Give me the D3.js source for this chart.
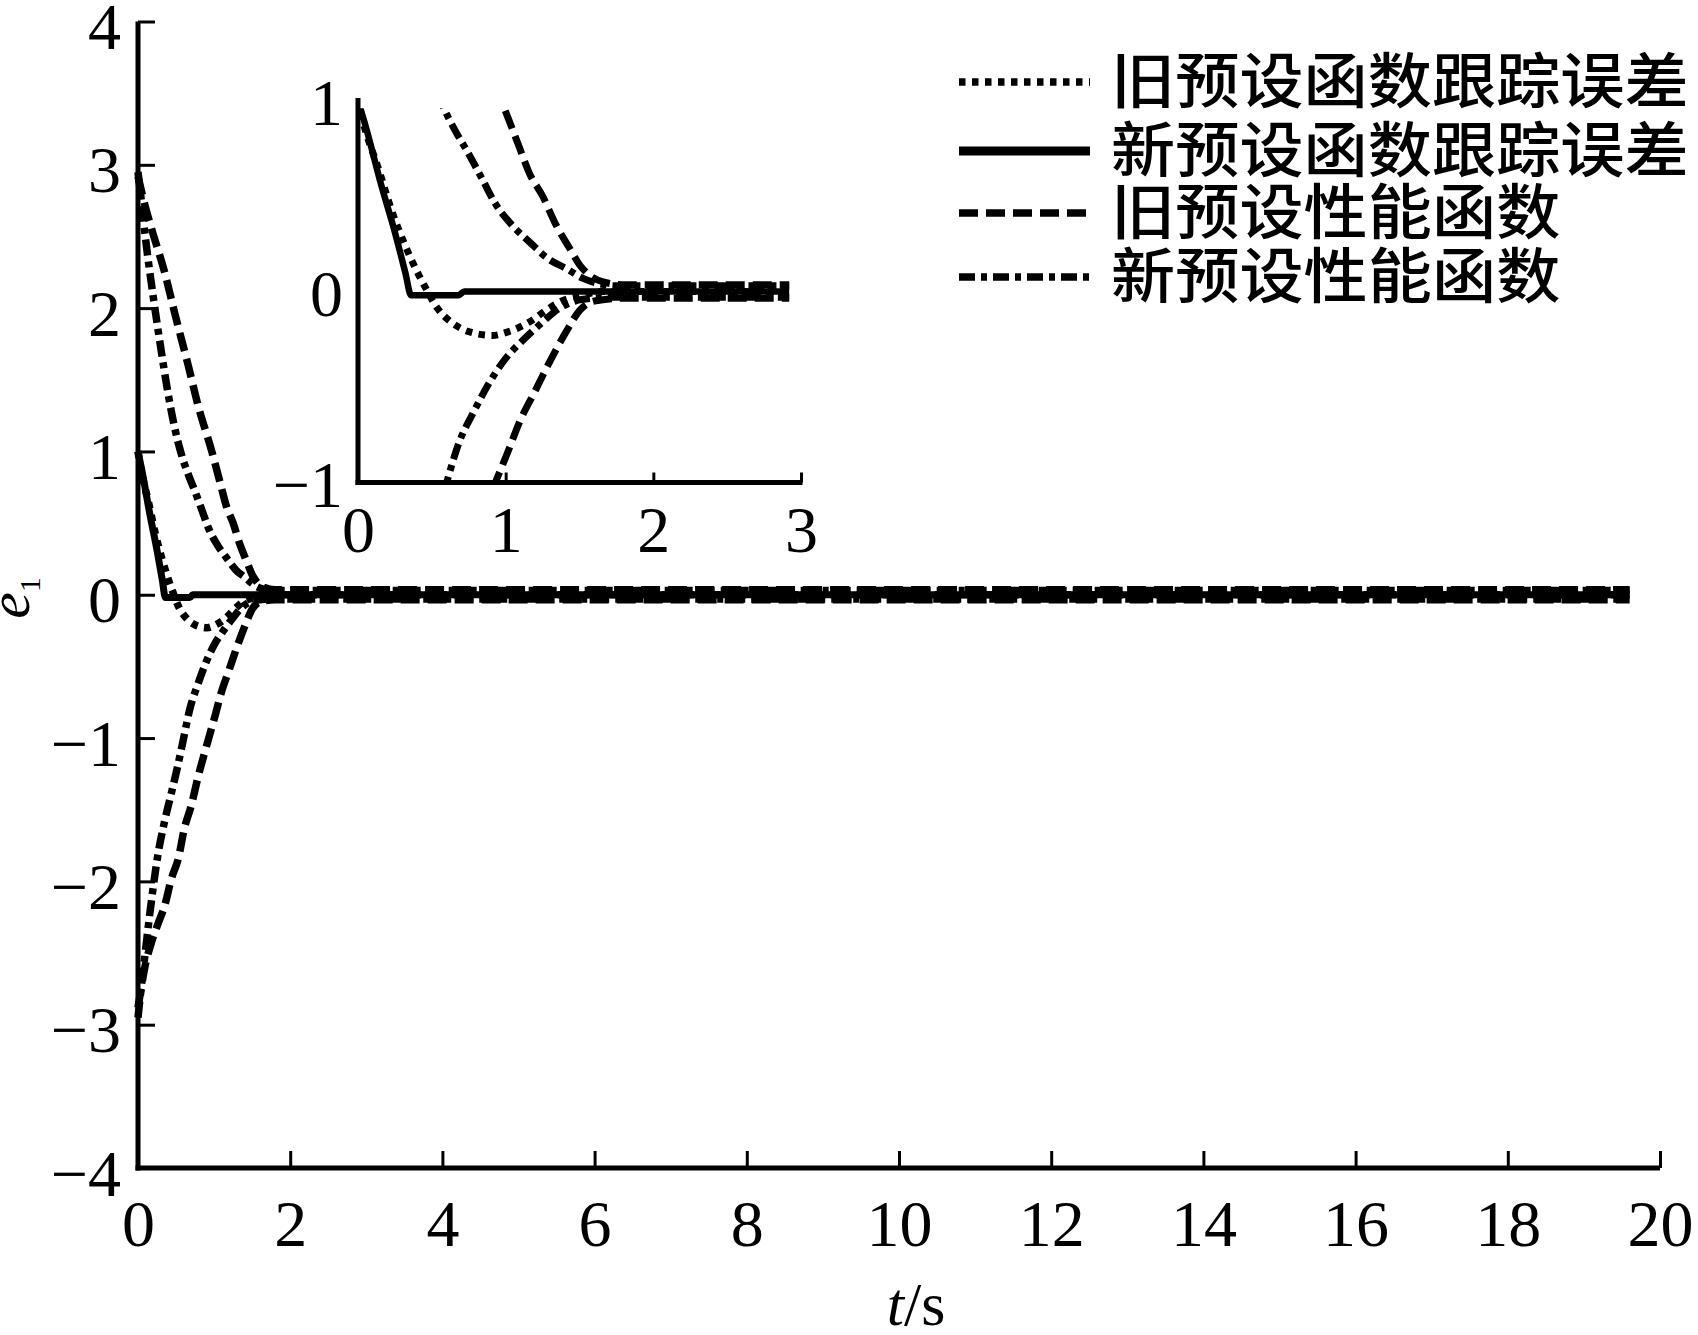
<!DOCTYPE html>
<html>
<head>
<meta charset="utf-8">
<script src="https://cdn.jsdelivr.net/npm/d3@7"></script>
<style>
  html, body { margin: 0; padding: 0; background: #fff; }
  svg { display: block; }
</style>
</head>
<body>
<script>
// ---------------- data ----------------
const xTicks = [0, 2, 4, 6, 8, 10, 12, 14, 16, 18, 20];
const yTicks = [-4, -3, -2, -1, 0, 1, 2, 3, 4];
const insetXTicks = [0, 1, 2, 3];
const insetYTicks = [-1, 0, 1];

const legendLabels = ["旧预设函数跟踪误差", "新预设函数跟踪误差", "旧预设性能函数", "新预设性能函数"];

// old preset function tracking error (dotted)
const oldErrT = [0, 0.03, 0.14, 0.23, 0.32, 0.39, 0.45, 0.54, 0.63, 0.75, 0.91, 1.02, 1.16, 1.27, 1.38, 1.52, 1.65, 19.6];
const oldErrV = [1.0, 0.9, 0.64, 0.42, 0.24, 0.12, 0.03, -0.09, -0.16, -0.21, -0.23, -0.21, -0.16, -0.1, -0.05, -0.02, 0, 0];

// new preset function tracking error (solid)
const newErrT = [0, 0.05, 0.16, 0.25, 0.32, 0.36, 0.68, 0.72, 19.6];
const newErrV = [1.0, 0.87, 0.55, 0.31, 0.1, -0.02, -0.02, 0, 0];

// old preset performance function (dashed) upper / lower
const oldPerfUpT = [0, 0.09, 0.18, 0.35, 0.48, 0.66, 0.79, 0.97, 1.09, 1.16, 1.25, 1.34, 1.43, 1.50, 1.56, 1.66, 1.8, 19.6];
const oldPerfUpV = [2.92, 2.72, 2.55, 2.25, 1.97, 1.60, 1.32, 1.0, 0.76, 0.62, 0.50, 0.35, 0.23, 0.14, 0.09, 0.05, 0.035, 0.035];
const oldPerfLoT = [0, 0.04, 0.09, 0.18, 0.26, 0.35, 0.44, 0.53, 0.61, 0.70, 0.79, 0.93, 1.02, 1.09, 1.20, 1.29, 1.41, 1.50, 1.60, 1.8, 19.6];
const oldPerfLoV = [-2.88, -2.75, -2.6, -2.42, -2.3, -2.17, -1.98, -1.84, -1.63, -1.47, -1.27, -1.0, -0.83, -0.69, -0.52, -0.38, -0.21, -0.10, -0.05, -0.035, -0.035];

// new preset performance function (dash-dot) upper / lower
const newPerfUpT = [0, 0.05, 0.1, 0.2, 0.3, 0.39, 0.48, 0.57, 0.66, 0.75, 0.84, 0.93, 1.04, 1.16, 1.29, 1.41, 1.52, 1.61, 1.75, 19.6];
const newPerfUpV = [2.95, 2.72, 2.48, 2.08, 1.72, 1.42, 1.17, 0.98, 0.84, 0.72, 0.59, 0.46, 0.35, 0.26, 0.17, 0.12, 0.07, 0.045, 0.03, 0.03];
const newPerfLoT = [0, 0.04, 0.09, 0.18, 0.26, 0.35, 0.44, 0.52, 0.6, 0.68, 0.79, 0.88, 1.0, 1.11, 1.25, 1.36, 1.47, 1.6, 1.75, 19.6];
const newPerfLoV = [-2.95, -2.75, -2.52, -2.12, -1.82, -1.58, -1.38, -1.2, -1.0, -0.8, -0.62, -0.49, -0.35, -0.26, -0.16, -0.09, -0.05, -0.035, -0.03, -0.03];

// ---------------- styles ----------------
const DOT = "6.5,6.5", DASH = "19,8", DASHDOT = "16,6,6,6";
const series = [
  { t: oldErrT, v: oldErrV, dash: DOT },
  { t: oldPerfUpT, v: oldPerfUpV, dash: DASH },
  { t: oldPerfLoT, v: oldPerfLoV, dash: DASH },
  { t: newPerfUpT, v: newPerfUpV, dash: DASHDOT },
  { t: newPerfLoT, v: newPerfLoV, dash: DASHDOT },
  { t: newErrT, v: newErrV, dash: null }
];
const legendDash = [DOT, null, DASH, DASHDOT];

const W = 1698, H = 1335;
const svg = d3.select("body").append("svg").attr("width", W).attr("height", H);
const SERIF = "'Liberation Serif', 'Times New Roman', serif";
const CJK = "'Noto Sans CJK SC', 'Noto Sans', sans-serif";

// ---------------- main chart ----------------
const x = d3.scaleLinear().domain([0, 20]).range([138, 1660]);
const y = d3.scaleLinear().domain([-4, 4]).range([1168, 21.5]);

function drawSeries(g, xs, ys, width) {
  series.forEach(s => {
    const pts = s.t.map((t, i) => [t, s.v[i]]);
    g.append("path")
      .attr("d", d3.line().x(d => xs(d[0])).y(d => ys(d[1])).curve(d3.curveMonotoneX)(pts))
      .attr("fill", "none").attr("stroke", "#000")
      .attr("stroke-width", s.dash ? width : width - 0.5)
      .attr("stroke-dasharray", s.dash)
      .attr("stroke-linecap", "butt");
  });
}

const main = svg.append("g");
drawSeries(main, x, y, 7.5);

// axes
const xAxis = d3.axisBottom(x).tickValues(xTicks).tickFormat(d3.format("d"))
  .tickSizeInner(-17).tickSizeOuter(0).tickPadding(0);
const gx = svg.append("g").attr("transform", `translate(0,${y(-4)})`).call(xAxis);
gx.select(".domain").attr("stroke-width", 5).attr("d", `M${x(0) - 2.5},0H${x(20)}`);
gx.selectAll(".tick line").attr("stroke-width", 3);
gx.selectAll(".tick text").attr("dy", null).attr("y", 78)
  .attr("font-family", SERIF).attr("font-size", 66).attr("fill", "#000");

const yAxis = d3.axisLeft(y).tickValues(yTicks).tickFormat(d3.format("d"))
  .tickSizeInner(-17).tickSizeOuter(0).tickPadding(17);
const gy = svg.append("g").attr("transform", `translate(${x(0)},0)`).call(yAxis);
gy.select(".domain").attr("stroke-width", 5).attr("d", `M0,${y(4)}V${y(-4) + 2.5}`);
gy.selectAll(".tick line").attr("stroke-width", 3);
gy.selectAll(".tick text").attr("dy", "0.41em")
  .attr("font-family", SERIF).attr("font-size", 66).attr("fill", "#000");

// axis titles
const yl = svg.append("text").attr("transform", "translate(29,598) rotate(-90)")
  .attr("text-anchor", "middle").attr("font-family", SERIF).attr("fill", "#000");
yl.append("tspan").attr("font-style", "italic").attr("font-size", 60).text("e");
yl.append("tspan").attr("font-size", 30).attr("dy", 11).text("1");

const xl = svg.append("text").attr("x", 916).attr("y", 1325)
  .attr("text-anchor", "middle").attr("font-family", SERIF).attr("font-size", 62).attr("fill", "#000");
xl.append("tspan").attr("font-style", "italic").text("t");
xl.append("tspan").text("/s");

// ---------------- inset ----------------
const xi = d3.scaleLinear().domain([0, 3]).range([358, 801]);
const yi = d3.scaleLinear().domain([-1, 1]).range([482.5, 100.5]);

svg.append("clipPath").attr("id", "insetClip").append("rect")
  .attr("x", xi(0)).attr("y", yi(0.96))
  .attr("width", xi(2.92) - xi(0)).attr("height", yi(-1) - yi(0.96));
const inset = svg.append("g").attr("clip-path", "url(#insetClip)");
drawSeries(inset, xi, yi, 7);

const xiAxis = d3.axisBottom(xi).tickValues(insetXTicks).tickFormat(d3.format("d"))
  .tickSizeInner(-10).tickSizeOuter(0).tickPadding(0);
const gxi = svg.append("g").attr("transform", `translate(0,${yi(-1)})`).call(xiAxis);
gxi.select(".domain").attr("stroke-width", 5).attr("d", `M${xi(0) - 2.5},0H${xi(3) + 1.5}`);
gxi.selectAll(".tick line").attr("stroke-width", 3);
gxi.selectAll(".tick text").attr("dy", null).attr("y", 69)
  .attr("font-family", SERIF).attr("font-size", 66).attr("fill", "#000");

const yiAxis = d3.axisLeft(yi).tickValues(insetYTicks).tickFormat(d3.format("d"))
  .tickSizeInner(0).tickSizeOuter(0).tickPadding(15);
const gyi = svg.append("g").attr("transform", `translate(${xi(0)},0)`).call(yiAxis);
gyi.select(".domain").attr("stroke-width", 5).attr("d", `M0,${yi(1) - 2.5}V${yi(-1) + 2.5}`);
gyi.selectAll(".tick text").attr("dy", "0.37em")
  .attr("font-family", SERIF).attr("font-size", 66).attr("fill", "#000");

// ---------------- legend ----------------
const legendRowsY = [82, 151, 213, 277];
const leg = svg.append("g");
legendLabels.forEach((lab, i) => {
  const ry = legendRowsY[i];
  leg.append("line").attr("x1", 959).attr("x2", 1090).attr("y1", ry).attr("y2", ry)
    .attr("stroke", "#000").attr("stroke-width", legendDash[i] ? 7.5 : 9)
    .attr("stroke-dasharray", legendDash[i]);
  leg.append("text").attr("transform", `translate(1111,${ry + 21}) scale(1.07,1)`)
    .attr("font-family", CJK).attr("font-weight", 500).attr("font-size", 60)
    .attr("fill", "#000").text(lab);
});
</script>
</body>
</html>
